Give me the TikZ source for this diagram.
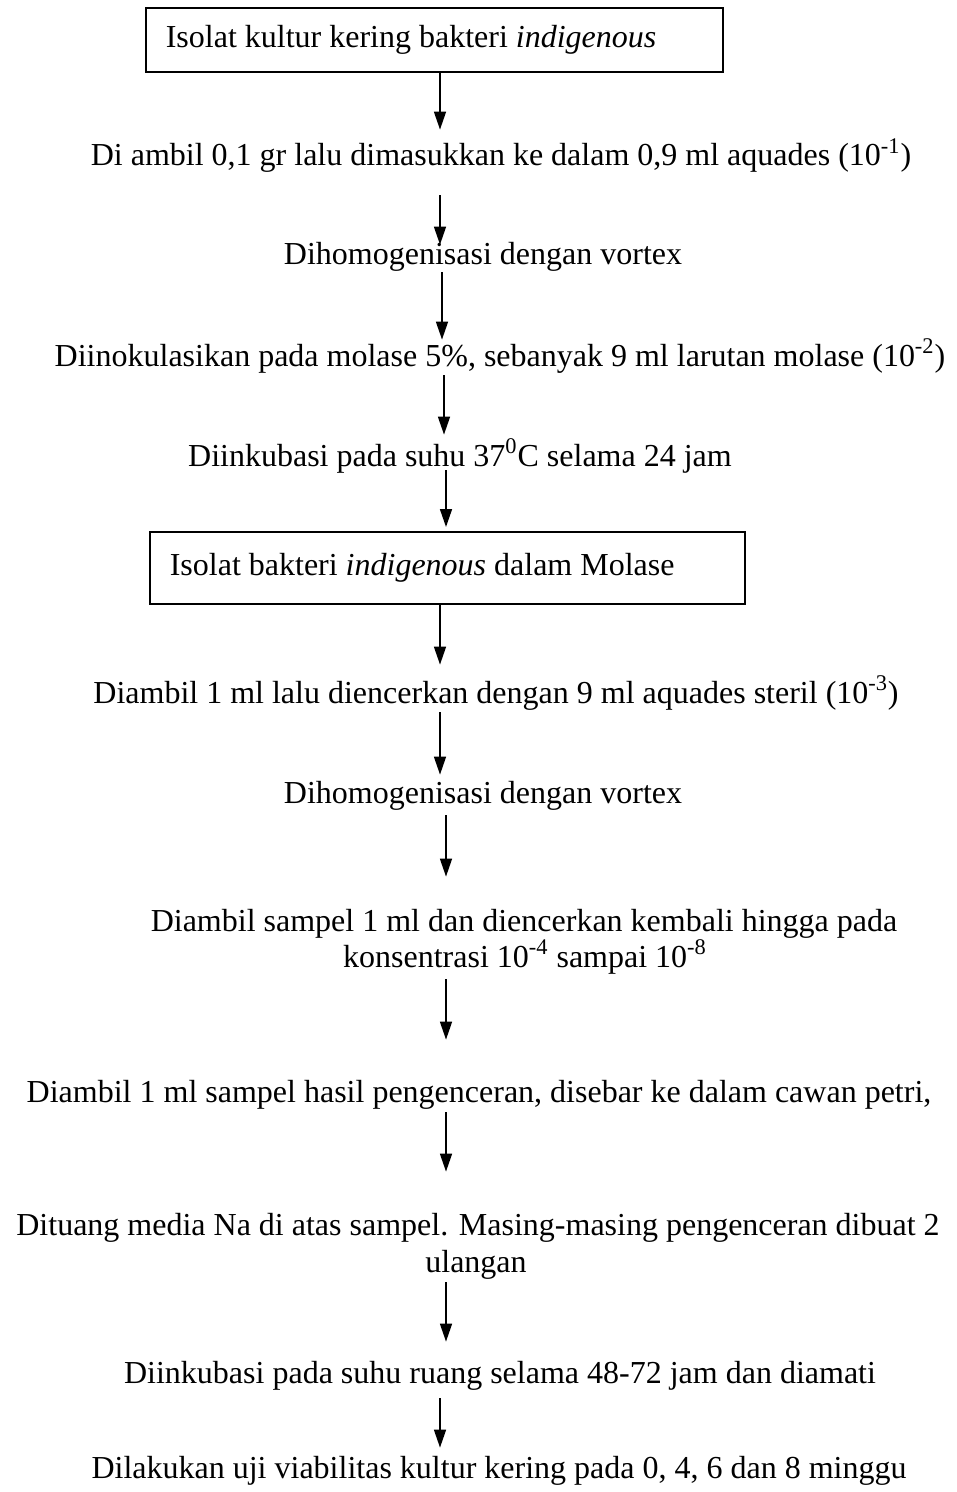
\documentclass[tikz,border=0pt]{standalone}
\usepackage{fontspec}
\setmainfont{Liberation Serif}
\usetikzlibrary{arrows.meta}
\tikzset{
  lbl/.style={inner sep=0pt, anchor=base, text height=11pt, text depth=3.5pt, font=\fontsize{16pt}{20pt}\selectfont},
  boxnode/.style={draw, line width=0.8pt, inner xsep=10pt, inner ysep=0pt, anchor=north west, text height=11pt, text depth=3.5pt, font=\fontsize{16pt}{20pt}\selectfont},
  arr/.style={line width=0.8pt, -{Triangle[width=6pt,length=9pt]}}
}
\begin{document}
\begin{tikzpicture}[x=0.5pt,y=-0.5pt]
\useasboundingbox (0,0) rectangle (957,1492);
% boxes
\node[boxnode, minimum width=288.5pt, minimum height=32pt] (box1) at (145,7) {\makebox[268.5pt][l]{Isolat kultur kering bakteri \textit{indigenous}}};
\node[boxnode, minimum width=297.5pt, minimum height=36pt] (box2) at (149,531) {\makebox[277.5pt][l]{Isolat bakteri \textit{indigenous} dalam Molase}};
% texts
\node[lbl] (t2) at (501,166) {Di ambil 0,1 gr lalu dimasukkan ke dalam 0,9 ml aquades (10\textsuperscript{-1})};
\node[lbl] (t3) at (483,265) {Dihomogenisasi dengan vortex};
\node[lbl] (t4) at (500,366) {Diinokulasikan pada molase 5\%, sebanyak 9 ml larutan molase (10\textsuperscript{-2})};
\node[lbl] (t5) at (460,466) {Diinkubasi pada suhu 37\textsuperscript{0}C selama 24 jam};
\node[lbl] (t7) at (496,703) {Diambil 1 ml lalu diencerkan dengan 9 ml aquades steril (10\textsuperscript{-3})};
\node[lbl] (t8) at (483,803) {Dihomogenisasi dengan vortex};
\node[lbl] (t9a) at (524,931) {Diambil sampel 1 ml dan diencerkan kembali hingga pada};
\node[lbl] (t9b) at (525,967) {konsentrasi 10\textsuperscript{-4} sampai 10\textsuperscript{-8}};
\node[lbl] (t10) at (479,1102) {Diambil 1 ml sampel hasil pengenceran, disebar ke dalam cawan petri,};
\node[lbl] (t11a) at (478,1235) {Dituang media Na di atas sampel. Masing-masing pengenceran dibuat 2};
\node[lbl] (t11b) at (476,1272) {ulangan};
\node[lbl] (t12) at (500,1383) {Diinkubasi pada suhu ruang selama 48-72 jam dan diamati};
\node[lbl] (t13) at (499,1478) {Dilakukan uji viabilitas kultur kering pada 0, 4, 6 dan 8 minggu};
% arrow x positions
\coordinate (xa) at (440,0);
\coordinate (xb) at (442,0);
\coordinate (xc) at (444,0);
\coordinate (xd) at (446,0);
% arrows
\draw[arr, shorten >=7pt] (box1.south -| xa) -- (t2.north -| xa);
\draw[arr, shorten <=11pt, shorten >=-1pt] (t2.south -| xa) -- (t3.north -| xa);
\draw[arr, shorten >=2pt] (t3.south -| xb) -- (t4.north -| xb);
\draw[arr, shorten <=1pt, shorten >=4.5pt] (t4.south -| xc) -- (t5.north -| xc);
\draw[arr, shorten <=-1.5pt, shorten >=2pt] (t5.south -| xd) -- (box2.north -| xd);
\draw[arr, shorten >=8pt] (box2.south -| xa) -- (t7.north -| xa);
\draw[arr, shorten <=1pt, shorten >=3pt] (t7.south -| xa) -- (t8.north -| xa);
\draw[arr, shorten <=2.5pt, shorten >=16pt] (t8.south -| xd) -- (t9a.north -| xd);
\draw[arr, shorten <=2.5pt, shorten >=20pt] (t9b.south -| xd) -- (t10.north -| xd);
\draw[arr, shorten <=1.5pt, shorten >=20.5pt] (t10.south -| xd) -- (t11a.north -| xd);
\draw[arr, shorten <=1.5pt, shorten >=9.5pt] (t11b.south -| xd) -- (t12.north -| xd);
\draw[arr, shorten <=4pt, shorten >=4pt] (t12.south -| xa) -- (t13.north -| xa);
\end{tikzpicture}
\end{document}
